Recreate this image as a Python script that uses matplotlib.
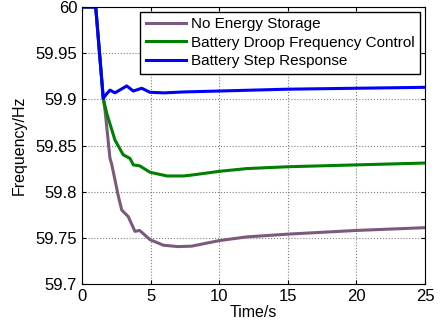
import numpy as np
import matplotlib.pyplot as plt

plt.rcParams['font.family'] = ['Liberation Sans', 'DejaVu Sans']

# data (time in s, frequency in Hz)
t_none = [0, 1.0, 1.55, 1.68, 2.04, 2.16, 2.4, 2.65, 2.9, 3.37, 3.86, 4.2, 4.96,
          5.93, 7.0, 8.0, 9.0, 10.0, 12.0, 15.0, 20.0, 25.0]
f_none = [60.0, 60.0, 59.901, 59.888, 59.836, 59.830, 59.813, 59.795, 59.780,
          59.773, 59.757, 59.758, 59.748, 59.742, 59.7405, 59.741, 59.744,
          59.747, 59.751, 59.754, 59.758, 59.761]

t_droop = [0, 1.0, 1.55, 1.8, 2.4, 3.0, 3.5, 3.74, 4.2, 4.96, 6.2, 7.4, 8.0,
           9.0, 10.0, 12.0, 15.0, 20.0, 25.0]
f_droop = [60.0, 60.0, 59.901, 59.885, 59.856, 59.840, 59.836, 59.829, 59.828,
           59.821, 59.817, 59.817, 59.818, 59.820, 59.822, 59.825, 59.827,
           59.829, 59.831]

t_step = [0, 1.0, 1.55, 1.8, 2.04, 2.4, 3.26, 3.74, 4.35, 4.96, 6.0, 7.4,
          10.0, 15.0, 20.0, 25.0]
f_step = [60.0, 60.0, 59.901, 59.906, 59.910, 59.907, 59.9145, 59.909, 59.912,
          59.9076, 59.907, 59.908, 59.909, 59.911, 59.912, 59.913]

labels = ['No Energy Storage', 'Battery Droop Frequency Control',
          'Battery Step Response']

fig = plt.figure(figsize=(4.4, 3.26), dpi=100)
ax = fig.add_axes([82 / 440, 1 - 284 / 326, (425 - 82) / 440, (284 - 7) / 326])

ax.plot(t_none, f_none, color='#7b5a7b', lw=2.2, label=labels[0])
ax.plot(t_droop, f_droop, color='#008000', lw=2.2, label=labels[1])
ax.plot(t_step, f_step, color='#0000ff', lw=2.2, label=labels[2])

ax.set_xlim(0, 25)
ax.set_ylim(59.7, 60)
ax.set_xticks([0, 5, 10, 15, 20, 25])
ax.set_yticks([59.7, 59.75, 59.8, 59.85, 59.9, 59.95, 60])
ax.set_yticklabels(['59.7', '59.75', '59.8', '59.85', '59.9', '59.95', '60'])
ax.tick_params(direction='in', top=True, right=True, labelsize=12, length=3)
ax.grid(True, color='#808080', linestyle=':', linewidth=0.8)
ax.set_xlabel('Time/s', fontsize=11.5, labelpad=1)
ax.set_ylabel('Frequency/Hz', fontsize=11.5, labelpad=6)

leg = ax.legend(loc='upper right', bbox_to_anchor=(0.985, 0.983), fontsize=11,
                fancybox=False, framealpha=1, edgecolor='black',
                handlelength=2.6, borderpad=0.35, labelspacing=0.3,
                handletextpad=0.35, borderaxespad=0)
leg.get_frame().set_linewidth(1.0)

fig.savefig('out.png', dpi=100)
